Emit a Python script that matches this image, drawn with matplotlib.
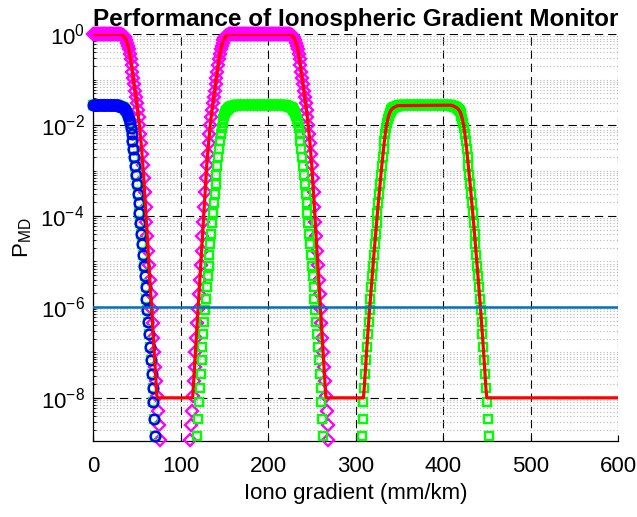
import numpy as np
import matplotlib.pyplot as plt
from matplotlib.ticker import FixedLocator, LogLocator, NullFormatter

plt.rcParams['font.family'] = ['Liberation Sans', 'DejaVu Sans']
plt.rcParams['mathtext.fontset'] = 'custom'
plt.rcParams['mathtext.rm'] = 'Liberation Sans'
plt.rcParams['mathtext.it'] = 'Liberation Sans:italic'
plt.rcParams['axes.unicode_minus'] = False
plt.rcParams['lines.scale_dashes'] = False

# P_MD of the monitor, kept as log10 values, one sample per mm/km of gradient
blue_g = np.arange(0, 72)
blue_log = [-1.56] * 29 + [
    -1.57, -1.57, -1.58, -1.59, -1.60, -1.61, -1.62, -1.64, -1.66, -1.69,
    -1.73, -1.79, -1.86, -1.95, -2.06, -2.19, -2.35, -2.52, -2.71, -2.90,
    -3.10, -3.30, -3.51, -3.72, -3.94, -4.16, -4.39, -4.62, -4.85, -5.09,
    -5.33, -5.57, -5.82, -6.07, -6.33, -6.60, -6.88, -7.17, -7.47, -7.78,
    -8.10, -8.46, -8.83]

mag_g1 = np.arange(0, 77)
mag_log1 = [0.0] * 33 + [
    -0.01, -0.02, -0.04, -0.06, -0.09, -0.13, -0.19, -0.25, -0.33, -0.43,
    -0.55, -0.68, -0.82, -0.96, -1.10, -1.24, -1.38, -1.52, -1.67, -1.83,
    -2.00, -2.19, -2.40, -2.63, -2.88, -3.17, -3.48, -3.80, -4.12, -4.44,
    -4.76, -5.08, -5.40, -5.72, -6.04, -6.36, -6.68, -7.00, -7.32, -7.64,
    -7.96, -8.28, -8.60, -8.92]

mag_g2 = np.arange(111, 270)
mag_log2 = [
    -8.92, -8.60, -8.28, -7.96, -7.64, -7.32, -7.00, -6.68, -6.36, -6.04,
    -5.72, -5.40, -5.08, -4.76, -4.44, -4.12, -3.80, -3.48, -3.17, -2.88,
    -2.63, -2.40, -2.19, -2.00, -1.83, -1.67, -1.52, -1.38, -1.24, -1.10,
    -0.96, -0.82, -0.68, -0.55, -0.43, -0.33, -0.25, -0.19, -0.13, -0.09,
    -0.06, -0.04, -0.02, -0.01] + [0.0] * 71 + [
    -0.01, -0.02, -0.04, -0.06, -0.09, -0.13, -0.19, -0.25, -0.33, -0.43,
    -0.55, -0.68, -0.82, -0.96, -1.10, -1.24, -1.38, -1.52, -1.67, -1.83,
    -2.00, -2.19, -2.40, -2.63, -2.88, -3.17, -3.48, -3.80, -4.12, -4.44,
    -4.76, -5.08, -5.40, -5.72, -6.04, -6.36, -6.68, -7.00, -7.32, -7.64,
    -7.96, -8.28, -8.60, -8.92]

green_g1 = np.arange(119, 264)
green_log1 = [
    -8.83, -8.46, -8.10, -7.78, -7.47, -7.17, -6.88, -6.60, -6.33, -6.07,
    -5.82, -5.57, -5.33, -5.09, -4.85, -4.62, -4.39, -4.16, -3.94, -3.72,
    -3.51, -3.30, -3.10, -2.90, -2.71, -2.52, -2.35, -2.19, -2.06, -1.95,
    -1.86, -1.79, -1.73, -1.69, -1.66, -1.64, -1.62, -1.61, -1.60, -1.59,
    -1.58, -1.57, -1.57] + [-1.56] * 59 + [
    -1.57, -1.57, -1.58, -1.59, -1.60, -1.61, -1.62, -1.64, -1.66, -1.69,
    -1.73, -1.79, -1.86, -1.95, -2.06, -2.19, -2.35, -2.52, -2.71, -2.90,
    -3.10, -3.30, -3.51, -3.72, -3.94, -4.16, -4.39, -4.62, -4.85, -5.09,
    -5.33, -5.57, -5.82, -6.07, -6.33, -6.60, -6.88, -7.17, -7.47, -7.78,
    -8.10, -8.46, -8.83]

green_g2 = np.arange(307, 453)
green_log2 = [
    -8.83, -8.46, -8.10, -7.78, -7.47, -7.17, -6.88, -6.60, -6.33, -6.07,
    -5.82, -5.57, -5.33, -5.09, -4.85, -4.62, -4.39, -4.16, -3.94, -3.72,
    -3.51, -3.30, -3.10, -2.90, -2.71, -2.52, -2.35, -2.19, -2.06, -1.95,
    -1.86, -1.79, -1.73, -1.69, -1.66, -1.64, -1.62, -1.61, -1.60, -1.59,
    -1.58, -1.57, -1.57] + [-1.56] * 60 + [
    -1.57, -1.57, -1.58, -1.59, -1.60, -1.61, -1.62, -1.64, -1.66, -1.69,
    -1.73, -1.79, -1.86, -1.95, -2.06, -2.19, -2.35, -2.52, -2.71, -2.90,
    -3.10, -3.30, -3.51, -3.72, -3.94, -4.16, -4.39, -4.62, -4.85, -5.09,
    -5.33, -5.57, -5.82, -6.07, -6.33, -6.60, -6.88, -7.17, -7.47, -7.78,
    -8.10, -8.46, -8.83]

# overall P_MD, floored at 1e-8
red_g = ([0, 32] + list(range(33, 74)) + [74, 113] + list(range(114, 155))
         + [155, 225] + list(range(226, 267)) + [267, 309]
         + list(range(310, 350)) + [409] + list(range(410, 450)) + [450, 600])
red_log = [0.0, 0.0,
    -0.01, -0.02, -0.04, -0.06, -0.09, -0.13, -0.19, -0.25, -0.33, -0.43,
    -0.55, -0.68, -0.82, -0.96, -1.10, -1.24, -1.38, -1.52, -1.67, -1.83,
    -2.00, -2.19, -2.40, -2.63, -2.88, -3.17, -3.48, -3.80, -4.12, -4.44,
    -4.76, -5.08, -5.40, -5.72, -6.04, -6.36, -6.68, -7.00, -7.32, -7.64,
    -7.96,
    -8.0, -8.0,
    -7.96, -7.64, -7.32, -7.00, -6.68, -6.36, -6.04, -5.72, -5.40, -5.08,
    -4.76, -4.44, -4.12, -3.80, -3.48, -3.17, -2.88, -2.63, -2.40, -2.19,
    -2.00, -1.83, -1.67, -1.52, -1.38, -1.24, -1.10, -0.96, -0.82, -0.68,
    -0.55, -0.43, -0.33, -0.25, -0.19, -0.13, -0.09, -0.06, -0.04, -0.02,
    -0.01,
    0.0, 0.0,
    -0.01, -0.02, -0.04, -0.06, -0.09, -0.13, -0.19, -0.25, -0.33, -0.43,
    -0.55, -0.68, -0.82, -0.96, -1.10, -1.24, -1.38, -1.52, -1.67, -1.83,
    -2.00, -2.19, -2.40, -2.63, -2.88, -3.17, -3.48, -3.80, -4.12, -4.44,
    -4.76, -5.08, -5.40, -5.72, -6.04, -6.36, -6.68, -7.00, -7.32, -7.64,
    -7.96,
    -8.0, -8.0,
    -7.78, -7.47, -7.17, -6.88, -6.60, -6.33, -6.07, -5.82, -5.57, -5.33,
    -5.09, -4.85, -4.62, -4.39, -4.16, -3.94, -3.72, -3.51, -3.30, -3.10,
    -2.90, -2.71, -2.52, -2.35, -2.19, -2.06, -1.95, -1.86, -1.79, -1.73,
    -1.69, -1.66, -1.64, -1.62, -1.61, -1.60, -1.59, -1.58, -1.57, -1.57,
    -1.56,
    -1.57, -1.57, -1.58, -1.59, -1.60, -1.61, -1.62, -1.64, -1.66, -1.69,
    -1.73, -1.79, -1.86, -1.95, -2.06, -2.19, -2.35, -2.52, -2.71, -2.90,
    -3.10, -3.30, -3.51, -3.72, -3.94, -4.16, -4.39, -4.62, -4.85, -5.09,
    -5.33, -5.57, -5.82, -6.07, -6.33, -6.60, -6.88, -7.17, -7.47, -7.78,
    -8.0, -8.0]

# integrity requirement
req_g = [0, 600]
req_p = [1e-6, 1e-6]

ytick_vals = [1e-8, 1e-6, 1e-4, 1e-2, 1e0]
xtick_vals = [0, 100, 200, 300, 400, 500, 600]

fig = plt.figure(figsize=(6.37, 5.17), dpi=100)
ax = fig.add_axes([0.146, 0.147, 0.8242, 0.7867])
ax.set_yscale('log')

mk = dict(linestyle='none', markerfacecolor='none', markeredgewidth=1.7,
          clip_on=False)
ax.plot(mag_g1, 10.0 ** np.array(mag_log1), marker='D', markersize=6.4,
        markeredgecolor=(1, 0, 1), zorder=3, **mk)
ax.plot(mag_g2, 10.0 ** np.array(mag_log2), marker='D', markersize=6.4,
        markeredgecolor=(1, 0, 1), zorder=3, **mk)
ax.plot(blue_g, 10.0 ** np.array(blue_log), marker='s', markersize=5.4,
        markeredgecolor=(0, 1, 0), zorder=3, **mk)
ax.plot(green_g1, 10.0 ** np.array(green_log1), marker='s', markersize=5.4,
        markeredgecolor=(0, 1, 0), zorder=3, **mk)
ax.plot(green_g2, 10.0 ** np.array(green_log2), marker='s', markersize=5.4,
        markeredgecolor=(0, 1, 0), zorder=3, **mk)
ax.plot(blue_g, 10.0 ** np.array(blue_log), marker='o', markersize=7,
        markeredgecolor=(0, 0, 1), zorder=4, **mk)

ax.plot(red_g, 10.0 ** np.array(red_log), color=(1, 0, 0), linewidth=2.3,
        zorder=5)
ax.plot(req_g, req_p, color=(0, 0.447, 0.741), linewidth=1.8, zorder=6)

ax.set_xlim(0, 600)
ax.set_ylim(10 ** -8.95, 1)
ax.xaxis.set_major_locator(FixedLocator(xtick_vals))
ax.yaxis.set_major_locator(FixedLocator(ytick_vals))
ax.yaxis.set_minor_locator(LogLocator(base=10, subs=np.arange(1, 10), numticks=40))
ax.yaxis.set_minor_formatter(NullFormatter())

ax.grid(True, which='major', color='k', linewidth=0.8, linestyle=(0, (6, 3.5)))
ax.grid(True, which='minor', axis='y', color='0.72', linewidth=0.8,
        linestyle=(0, (0.8, 1.6)))
ax.set_axisbelow(True)

for side in ('top', 'right'):
    ax.spines[side].set_visible(False)
for side in ('left', 'bottom'):
    ax.spines[side].set_color('k')
    ax.spines[side].set_linewidth(0.9)

ax.tick_params(which='major', direction='in', length=4, width=0.8,
               labelsize=16, colors='k', pad=6)
ax.tick_params(axis='x', which='major', pad=11)
ax.tick_params(which='minor', direction='in', length=2.5, width=0.6)
ax.tick_params(axis='x', which='minor', length=0)

ax.set_title('Performance of Ionospheric Gradient Monitor', fontsize=17.5,
             fontweight='bold', pad=6)
ax.set_xlabel('Iono gradient (mm/km)', fontsize=16, labelpad=4)
ax.set_ylabel(r'$\mathrm{P_{MD}}$', fontsize=16, labelpad=5)

fig.savefig('out.png', dpi=100)
